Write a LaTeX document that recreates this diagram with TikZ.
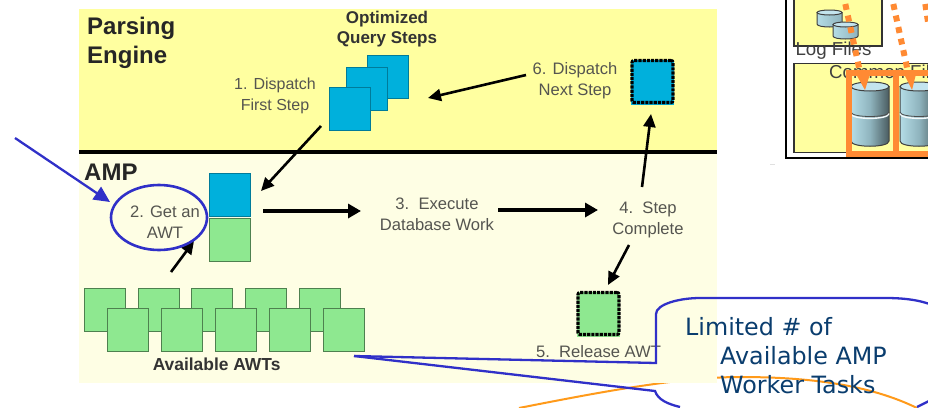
\documentclass[tikz,border=0pt]{standalone}
\usepackage{fontspec}
\setmainfont{Liberation Sans}
\newfontfamily\calloutfont{DejaVu Sans}
\usetikzlibrary{arrows.meta,calc,shapes.geometric}
\definecolor{peyellow}{HTML}{FFFFA0}
\definecolor{amppale}{HTML}{FEFEE4}
\definecolor{stepblue}{HTML}{00B0DC}
\definecolor{stepgreen}{HTML}{8EE890}
\definecolor{annot}{HTML}{3030C8}
\definecolor{calltext}{HTML}{0A3D6E}
\definecolor{orangeb}{HTML}{FF8A33}
\definecolor{orangel}{HTML}{FF9A1A}
\definecolor{greytext}{HTML}{555550}
\definecolor{cylA}{HTML}{B4DCE6}
\definecolor{cylB}{HTML}{8FB4BE}
\definecolor{cylC}{HTML}{4A5C60}
\definecolor{cylTop}{HTML}{C3E4EE}
\tikzset{
  x=1pt,y=-1pt,
  bluesq/.style={draw=stepblue!70!black,line width=0.8pt,fill=stepblue,inner sep=0pt,outer sep=0pt,anchor=north west,minimum width=41pt,minimum height=43pt},
  greensq/.style={draw=stepgreen!55!black,line width=0.9pt,fill=stepgreen,inner sep=0pt,outer sep=0pt,anchor=north west,minimum width=41pt,minimum height=43pt},
  dotsq/.style={draw=black,line width=3.2pt,densely dotted,rounded corners=2pt,inner sep=0pt,outer sep=0pt,anchor=north west,minimum width=41pt,minimum height=42pt},
  lbl/.style={font=\fontsize{16.6}{21}\selectfont,text=greytext,align=center,inner sep=0pt},
  hdr/.style={font=\fontsize{24}{29.5}\selectfont\bfseries,text=black!85,align=left,inner sep=0pt},
  smallhdr/.style={font=\fontsize{17}{20.5}\selectfont\bfseries,text=black!80,align=center,inner sep=0pt},
  flow/.style={-{Triangle[length=13pt,width=12pt]},line width=2.6pt,black},
  flowthick/.style={-{Triangle[length=13pt,width=14pt]},line width=4pt,black},
  annotline/.style={annot,line width=2.3pt},
  box/.style={draw=black!80,line width=1.1pt,fill=peyellow},
  orangedot/.style={orangeb,line width=6pt,dash pattern=on 6pt off 5.8pt},
  calltxt/.style={font=\fontsize{23.8}{24}\selectfont\calloutfont,text=calltext,inner sep=0pt,anchor=west},
}
\begin{document}
\begin{tikzpicture}
\useasboundingbox (0,0) rectangle (928,407);
\clip (0,0) rectangle (928,407);

% orange curve, behind the pale panel
\coordinate (oa) at (519,408);
\coordinate (ob) at (917,408);
\draw[orangel,line width=2pt] (oa) .. controls (600,392) and (680,377) .. (740,377) .. controls (810,377) and (870,385) .. (ob);

% panels
\fill[peyellow] (79,9) rectangle (717,152);
\fill[amppale] (79,153) rectangle (717,383);
\fill[black] (79,150) rectangle (717,154);

\node[hdr,anchor=north west] (pe) at (87,16.5) {Parsing\\Engine};
\node[hdr,anchor=north west] (amp) at (84,164) {AMP};
\node[smallhdr] (oqs) at (387,29) {Optimized\\Query Steps};

% blue stack
\node[bluesq] (b3) at (367,55) {};
\node[bluesq] (b2) at (346,67) {};
\node[bluesq] (b1) at (329,87) {};
\node[bluesq] (b4) at (209,173) {};
\node[greensq] (g0) at (209,218) {};
\node[bluesq,draw=none,minimum width=43pt,minimum height=45pt] (b5) at (631,60) {};
\node[dotsq] (b5d) at (632,60.5) {};
\node[greensq,draw=none,minimum width=43pt,minimum height=45pt] (g5) at (577,292) {};
\node[dotsq] (g5d) at (578,292.5) {};

% available AWTs
\foreach \n/\px in {1/84,2/138,3/191,4/245,5/299}
  \node[greensq] (top\n) at (\px,288) {};
\foreach \n/\px in {1/107,2/161,3/215,4/269,5/323}
  \node[greensq] (bot\n) at (\px,308) {};

\node[smallhdr,font=\fontsize{17.4}{20}\selectfont\bfseries] (avail) at (216.6,364.5) {Available AWTs};
\node[lbl,font=\fontsize{16}{21}\selectfont] (s1) at (275,95.5) {1. Dispatch\\First Step};
\node[lbl] (s2) at (165,222) {2. Get an\\AWT};
\node[lbl] (s3) at (437,214.5) {3.\ \ Execute\\Database Work};
\node[lbl] (s4) at (648,220) {4.\ \ Step\\Complete};
\node[lbl] (s5) at (598.5,352) {5.\ \ Release AWT};
\node[lbl] (s6) at (575,80.5) {6. Dispatch\\Next Step};

% flow arrows
\coordinate (a1s) at (321,126); \coordinate (a1e) at (261,191);
\draw[flow] (a1s) -- (a1e);
\coordinate (a2s) at (171,272); \coordinate (a2e) at (194,241);
\draw[flow] (a2s) -- (a2e);
\coordinate (a3s) at (263,211); \coordinate (a3e) at (361,211);
\draw[flowthick] (a3s) -- (a3e);
\coordinate (a4s) at (498,210); \coordinate (a4e) at (598,210);
\draw[flowthick] (a4s) -- (a4e);
\coordinate (a5s) at (629,245); \coordinate (a5e) at (608,285);
\draw[flow] (a5s) -- (a5e);
\coordinate (a6s) at (642,187); \coordinate (a6e) at (651,114);
\draw[flow] (a6s) -- (a6e);
\coordinate (a7s) at (526,75); \coordinate (a7e) at (428,98);
\draw[flow] (a7s) -- (a7e);

% right-hand picture
\draw[black,line width=1.1pt,fill=white] (786,-5) rectangle (940,158);
\draw[box] (794,-5) rectangle (882,46);
\draw[box] (794,63.5) rectangle (940,152.5);
\node[font=\fontsize{18.7}{20}\selectfont,text=black!75,inner sep=0pt] (lf) at (833.5,51) {Log Files};
\node[font=\fontsize{18.7}{20}\selectfont,text=black!75,inner sep=0pt,anchor=west] (cf) at (829,72) {Common Files};

\foreach \xa/\xb/\yt/\yb in {817/842/12.5/24,833/858/24.5/36}{
  \path[left color=cylA,right color=cylB,draw=black!75,line width=1pt] (\xa,\yt) -- (\xa,\yb) .. controls (\xa,\yb+4) and (\xb,\yb+4) .. (\xb,\yb) -- (\xb,\yt) -- cycle;
  \path[fill=cylTop,draw=black!75,line width=1pt] ({(\xa+\xb)/2},\yt) ellipse[x radius=12.5,y radius=2.5];
}
\foreach \xa/\xb in {851/889,900/938}{
  \path[left color=cylA,right color=cylC,middle color=cylB,draw=black!75,line width=1pt] (\xa,86.5) -- (\xa,141) .. controls (\xa,148) and (\xb,148) .. (\xb,141) -- (\xb,86.5) -- cycle;
  \path[fill=cylTop,draw=black!75,line width=1pt] ({(\xa+\xb)/2},86.5) ellipse[x radius=19,y radius=4.5];
  \draw[white!85!cylA,line width=1.4pt] (\xa,113.5) .. controls (\xa,120) and (\xb,120) .. (\xb,113.5);
  \draw[black!70,line width=0.8pt] (\xa,112) .. controls (\xa,118) and (\xb,118) .. (\xb,112);
}
\draw[orangeb,line width=5.8pt] (848.8,73) rectangle (896,154);
\draw[orangeb,line width=5.8pt] (896,73) rectangle (945,154);

\coordinate (d1a) at (845.3,4); \coordinate (d1b) at (860,72);
\coordinate (d2a) at (893.3,4); \coordinate (d2b) at (908,72);
\coordinate (d3a) at (925.3,4); \coordinate (d3b) at (928,22);
\draw[orangedot] (d1a) -- (d1b);
\draw[orangedot] (d2a) -- (d2b);
\draw[orangedot] (d3a) -- (d3b);
\fill[orangeb] (856,74) -- (870,74) -- (865,90) -- cycle;
\fill[orangeb] (904,74) -- (916,74) -- (912,90) -- cycle;
\fill[black!12] (770,163.5) rectangle (775,165);

% annotations
\coordinate (bs) at (15,138); \coordinate (be) at (110,202);
\draw[annotline,-{Triangle[length=16pt,width=15pt]}] (bs) -- (be);
\node[draw=annot,line width=2.6pt,ellipse,minimum width=96pt,minimum height=65pt,inner sep=0pt] (ring) at (159,217.5) {};

\coordinate (tip) at (354,356);
\draw[annotline] (tip) -- (656,363) -- (656,314) .. controls (656,304) and (680,298) .. (700,298) -- (885,298) .. controls (905,298) and (920,300) .. (935,306);
\draw[annotline] (tip) -- (655,391) .. controls (658,400) and (668,404) .. (680,407);
\draw[annotline] (917,407) -- (935,398);
\node[calltxt] (c1) at (685,327) {Limited \# of};
\node[calltxt] (c2) at (720,356) {Available AMP};
\node[calltxt] (c3) at (720,385) {Worker Tasks};
\end{tikzpicture}
\end{document}
